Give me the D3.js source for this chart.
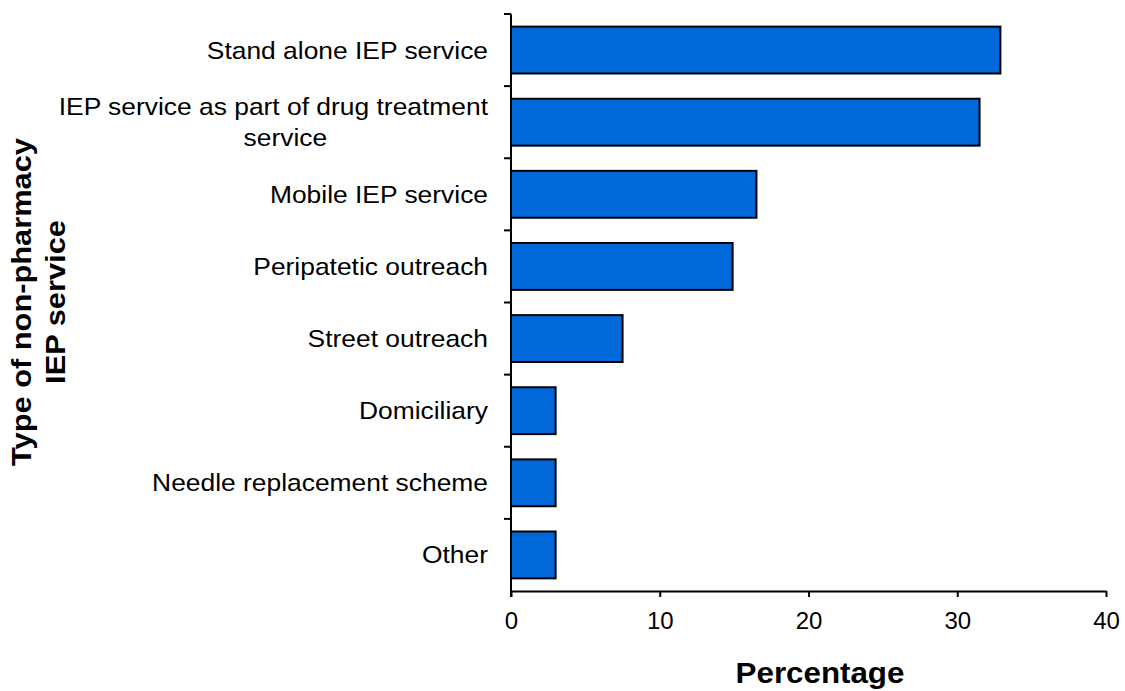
<!DOCTYPE html>
<html><head><meta charset="utf-8">
<script src="https://cdn.jsdelivr.net/npm/d3@7"></script>
<style>body{margin:0;background:#fff}svg{display:block}text{font-family:"Liberation Sans",Arial,sans-serif;fill:#000}</style>
</head><body>
<svg id="c" width="1125" height="691"></svg>
<script>
const categories = ["Stand alone IEP service","IEP service as part of drug treatment service","Mobile IEP service","Peripatetic outreach","Street outreach","Domiciliary","Needle replacement scheme","Other"];
const labelLines = [["Stand alone IEP service"],["IEP service as part of drug treatment","service"],["Mobile IEP service"],["Peripatetic outreach"],["Street outreach"],["Domiciliary"],["Needle replacement scheme"],["Other"]];
const values = [32.9, 31.5, 16.5, 14.9, 7.5, 3.0, 3.0, 3.0];
const xTicks = [0, 10, 20, 30, 40];

const svg = d3.select("#c");
const L = 511, R = 1106, T = 14, B = 591;
const x = d3.scaleLinear().domain([0, 40]).range([L, R]);
const y = d3.scaleBand().domain(categories).range([T, B]).paddingInner(0.35).paddingOuter(0.175);

// bars
svg.selectAll("rect.bar").data(values).join("rect")
  .attr("x", x(0)).attr("y", (d,i)=>y(categories[i]))
  .attr("width", d=>x(d)-x(0)).attr("height", y.bandwidth())
  .attr("fill", "#0068d8").attr("stroke", "#000").attr("stroke-width", 2);

// x axis
const xa = svg.append("g").attr("transform", `translate(0,${B})`)
  .call(d3.axisBottom(x).tickValues(xTicks).tickSize(6).tickSizeOuter(0).tickPadding(10));
xa.select(".domain").attr("stroke","#000").attr("stroke-width",2);
xa.selectAll(".tick line").attr("stroke","#000").attr("stroke-width",2);
xa.selectAll(".tick text").attr("font-size",24).attr("font-family","Liberation Sans, Arial, sans-serif").attr("dy","0.9em");

// y axis line & ticks at band boundaries
const step = y.step();
svg.append("line").attr("x1",L).attr("x2",L).attr("y1",T).attr("y2",B+6).attr("stroke","#000").attr("stroke-width",2);
d3.range(categories.length+1).forEach(i=>{
  const yy = T + i*step;
  if (i < categories.length) svg.append("line").attr("x1",L-7).attr("x2",L).attr("y1",yy).attr("y2",yy).attr("stroke","#000").attr("stroke-width",2);
});

// category labels
labelLines.forEach((lines,i)=>{
  const cy = y(categories[i]) + y.bandwidth()/2;
  if (lines.length === 1) {
    svg.append("text").attr("transform",`translate(488,${cy+8.5}) scale(1.1,1)`)
      .attr("text-anchor","end").attr("font-size",24).text(lines[0]);
  } else {
    const t1 = svg.append("text").attr("transform",`translate(488,${cy-7}) scale(1.1,1)`)
      .attr("text-anchor","end").attr("font-size",24).text(lines[0]);
    const w = t1.node().getComputedTextLength()*1.1;
    svg.append("text").attr("transform",`translate(${488 - w/2 + 12},${cy+24}) scale(1.1,1)`)
      .attr("text-anchor","middle").attr("font-size",24).text(lines[1]);
  }
});

// axis titles
svg.append("text").attr("transform",`translate(820,683) scale(1.08,1)`)
  .attr("text-anchor","middle").attr("font-size",29).attr("font-weight","bold").text("Percentage");
const yt = svg.append("g").attr("transform","translate(0,302) rotate(-90)");
yt.append("text").attr("transform","translate(0,31) scale(1.1,1)").attr("text-anchor","middle")
  .attr("font-size",28).attr("font-weight","bold").text("Type of non-pharmacy");
yt.append("text").attr("transform","translate(0,65) scale(1.1,1)").attr("text-anchor","middle")
  .attr("font-size",28).attr("font-weight","bold").text("IEP service");
</script>
</body></html>
